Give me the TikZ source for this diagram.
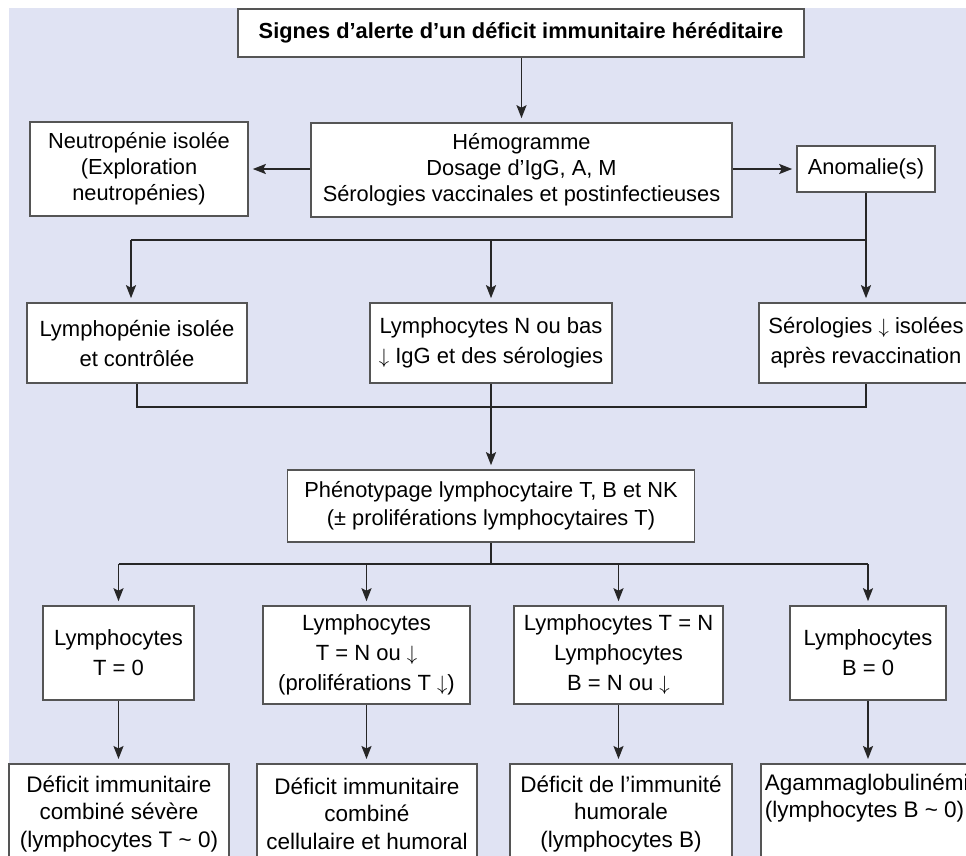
\documentclass[tikz,border=0pt]{standalone}
\usepackage{fontspec}
\setmainfont{Liberation Sans}
\usetikzlibrary{arrows.meta}
\definecolor{bgcol}{RGB}{224,227,243}
\definecolor{lncol}{RGB}{38,38,38}
\definecolor{bdcol}{RGB}{85,85,85}
\begin{document}
\begin{tikzpicture}[x=1pt,y=-1pt,
  box/.style={draw=bdcol,line width=1.6pt,fill=white,align=center,inner sep=0pt},
  norm/.style={font=\fontsize{21.8pt}{26pt}\selectfont},
  titlef/.style={font=\fontsize{21.8pt}{26pt}\selectfont\bfseries},
  phenof/.style={font=\fontsize{21.8pt}{28pt}\selectfont},
  rowf/.style={font=\fontsize{22pt}{30pt}\selectfont},
  rowg/.style={font=\fontsize{22pt}{30pt}\selectfont},
  lastf/.style={font=\fontsize{22.5pt}{27.5pt}\selectfont},
  conn/.style={draw=lncol,line width=1.8pt},
  arr/.style={conn,-{Stealth[length=13pt,width=10pt,inset=2.5pt]},shorten >=4pt}]
\useasboundingbox (0,0) rectangle (966,855);
\clip (0,0) rectangle (966,855);
\fill[bgcol] (9,8) rectangle (980,870);

% level 0
\node[box,titlef,minimum width=566pt,minimum height=48pt] (t) at (521,33)
  {Signes d’alerte d’un déficit immunitaire héréditaire};
% level 1
\node[box,norm,minimum width=421pt,minimum height=94pt] (h) at (521.5,170)
  {Hémogramme\\Dosage d’IgG, A, M\\Sérologies vaccinales et postinfectieuses};
\node[box,norm,minimum width=218pt,minimum height=94pt] (n) at (139,169)
  {Neutropénie isolée\\(Exploration\\neutropénies)};
\node[box,norm,minimum width=138pt,minimum height=46pt] (a) at (866,169)
  {Anomalie(s)};
% level 2
\node[box,rowf,minimum width=220pt,minimum height=80pt] (r1) at (137,343)
  {Lymphopénie isolée\\et contrôlée};
\node[box,rowf,minimum width=242pt,minimum height=80pt] (r2) at (491,343)
  {Lymphocytes N ou bas\\$\downarrow$ IgG et des sérologies};
\node[box,rowf,minimum width=214pt,minimum height=80pt] (r3) at (866,343)
  {Sérologies $\downarrow$ isolées\\après revaccination};
% level 3
\node[box,phenof,minimum width=407pt,minimum height=72pt] (p) at (491,506)
  {Phénotypage lymphocytaire T, B et NK\\(± proliférations lymphocytaires T)};
% level 4
\node[box,rowf,minimum width=151pt,minimum height=94pt] (q1) at (118.5,653)
  {Lymphocytes\\T = 0};
\node[box,rowg,minimum width=207pt,minimum height=98pt] (q2) at (366.5,655)
  {Lymphocytes\\T = N ou $\downarrow$\\(proliférations T $\downarrow$)};
\node[box,rowg,minimum width=209pt,minimum height=98pt] (q3) at (618.5,655)
  {Lymphocytes T = N\\Lymphocytes\\B = N ou $\downarrow$};
\node[box,rowf,minimum width=156pt,minimum height=94pt] (q4) at (868,653)
  {Lymphocytes\\B = 0};
% level 5
\node[box,lastf,minimum width=220pt,minimum height=100pt,anchor=north] (s1) at (119,763)
  {Déficit immunitaire\\combiné sévère\\(lymphocytes T \textasciitilde{} 0)};
\node[box,lastf,minimum width=220pt,minimum height=100pt,anchor=north] (s2) at (367,763)
  {Déficit immunitaire\\combiné\\cellulaire et humoral};
\node[box,lastf,minimum width=222pt,minimum height=100pt,anchor=north] (s3) at (621,763)
  {Déficit de l’immunité\\humorale\\(lymphocytes B)};
\node[box,lastf,align=left,inner xsep=4pt,minimum width=215pt,minimum height=100pt,anchor=north west] (s4) at (760,763)
  {Agammaglobulinémie\\(lymphocytes B \textasciitilde{} 0)\\\strut};

% connectors
\draw[arr] (t.south -| h.north) -- (h.north);
\draw[arr] (h.west |- n.east) -- (n.east);
\draw[arr] (h.east |- a.west) -- (a.west);

\coordinate (b1) at (131,240);
\draw[conn] (a.south) -- (a.south |- b1) -- (b1);
\draw[arr] (b1) -- (b1 |- r1.north);
\draw[arr] (b1 -| r2.north) -- (r2.north);
\draw[arr] (a.south |- b1) -- (r3.north);

\coordinate (c1) at (137,407);
\draw[conn] (r1.south) -- (c1) -- (c1 -| r3.south) -- (r3.south);
\draw[conn] (r2.south) -- (c1 -| r2.south);
\draw[arr] (c1 -| r2.south) -- (p.north);

\coordinate (d1) at (118.5,564);
\draw[conn] (p.south) -- (p.south |- d1);
\draw[conn] (d1) -- (d1 -| q4.north);
\draw[arr] (d1) -- (q1.north);
\draw[arr] (d1 -| q2.north) -- (q2.north);
\draw[arr] (d1 -| q3.north) -- (q3.north);
\draw[arr] (d1 -| q4.north) -- (q4.north);

\draw[arr] (q1.south) -- (q1.south |- s1.north);
\draw[arr] (q2.south) -- (q2.south |- s2.north);
\draw[arr] (q3.south) -- (q3.south |- s3.north);
\draw[arr] (q4.south) -- (q4.south |- s4.north);
\end{tikzpicture}
\end{document}
